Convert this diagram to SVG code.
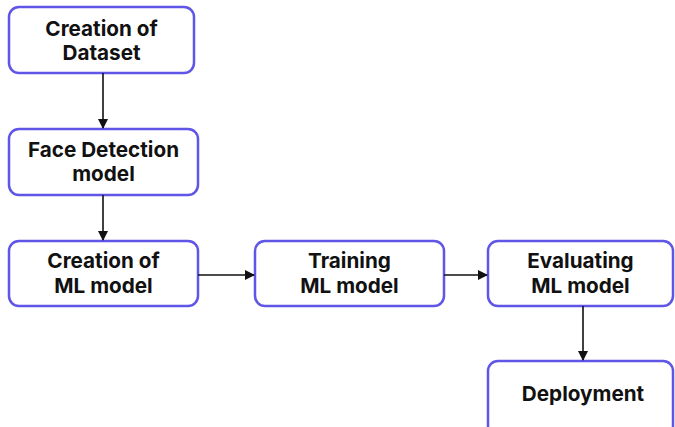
<svg xmlns="http://www.w3.org/2000/svg" width="675" height="427" viewBox="0 0 675 427">
<style>
.box{fill:#fff;stroke:#5f55e6;stroke-width:2.5}
.t{font-family:Inter,"Liberation Sans",sans-serif;font-weight:700;font-size:20.7px;fill:#111;text-anchor:middle}
.c{stroke:#111;stroke-width:1.6;fill:none}
</style>
<defs>
<marker id="ah" markerWidth="10" markerHeight="10" refX="9" refY="5" orient="auto" markerUnits="userSpaceOnUse">
<path d="M0,0 L10,5 L0,10 Z" fill="#111"/>
</marker>
</defs>
<rect width="675" height="427" fill="#fff"/>
<g id="n1"><rect class="box" x="9" y="7" width="185" height="66" rx="10"/><text class="t" x="101.5" y="36">Creation of</text><text class="t" x="101.5" y="60">Dataset</text></g>
<g id="n2"><rect class="box" x="9" y="129" width="189" height="66" rx="10"/><text class="t" x="103.5" y="157">Face Detection</text><text class="t" x="103.5" y="181">model</text></g>
<g id="n3"><rect class="box" x="9" y="241" width="189" height="65" rx="10"/><text class="t" x="103.5" y="268">Creation of</text><text class="t" x="103.5" y="293">ML model</text></g>
<g id="n4"><rect class="box" x="255" y="241" width="189" height="65" rx="10"/><text class="t" x="349.5" y="268">Training</text><text class="t" x="349.5" y="293">ML model</text></g>
<g id="n5"><rect class="box" x="488" y="241" width="185" height="65" rx="10"/><text class="t" x="580.5" y="268">Evaluating</text><text class="t" x="580.5" y="293">ML model</text></g>
<g id="n6"><rect class="box" x="488" y="361" width="185" height="75" rx="10"/><text class="t" x="583" y="401">Deployment</text></g>
<g id="connectors">
<line class="c" x1="103" y1="73" x2="103" y2="128" marker-end="url(#ah)"/>
<line class="c" x1="103" y1="195" x2="103" y2="240" marker-end="url(#ah)"/>
<line class="c" x1="198" y1="275" x2="254" y2="275" marker-end="url(#ah)"/>
<line class="c" x1="444" y1="275" x2="487" y2="275" marker-end="url(#ah)"/>
<line class="c" x1="583" y1="306" x2="583" y2="360" marker-end="url(#ah)"/>
</g>
</svg>
